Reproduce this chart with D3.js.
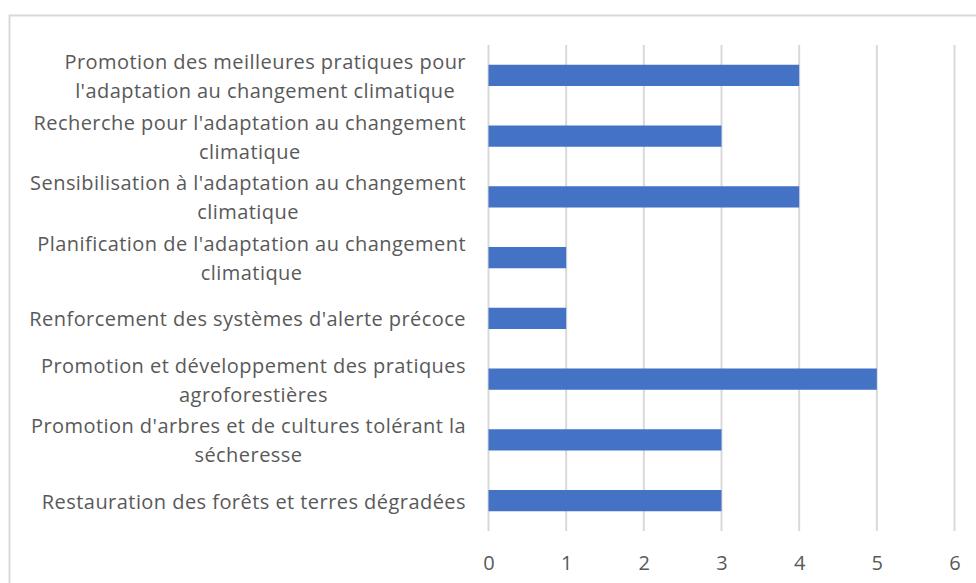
<!DOCTYPE html>
<html><head><meta charset="utf-8">
<script src="https://cdn.jsdelivr.net/npm/d3@7"></script>
<style>body{margin:0;background:#fff}svg{display:block}</style>
</head><body><svg id="c" width="976" height="583"></svg>
<script>
const categories = [
  ["Promotion des meilleures pratiques pour", "l'adaptation au changement climatique"],
  ["Recherche pour l'adaptation au changement", "climatique"],
  ["Sensibilisation à l'adaptation au changement", "climatique"],
  ["Planification de l'adaptation au changement", "climatique"],
  ["Renforcement des systèmes d'alerte précoce"],
  ["Promotion et développement des pratiques", "agroforestières"],
  ["Promotion d'arbres et de cultures tolérant la", "sécheresse"],
  ["Restauration des forêts et terres dégradées"]
];
const values = [4, 3, 4, 1, 1, 5, 3, 3];
const xTicks = [0, 1, 2, 3, 4, 5, 6];

const svg = d3.select("#c");
const font = "'Open Sans', sans-serif";
const fs = 20, lh = 29, textCol = "#595959", ls = 0.45;

svg.append("rect").attr("x", 9.5).attr("y", 15.5).attr("width", 1000).attr("height", 700)
  .attr("fill", "#fff").attr("stroke", "#d9d9d9").attr("stroke-width", 2);

const x = d3.scaleLinear().domain([0, 6]).range([488.5, 954.5]);
const y = d3.scaleBand().domain(d3.range(categories.length)).range([45, 531]).paddingInner(0.65).paddingOuter(0.325);

// gridlines
svg.append("g").selectAll("line").data(xTicks).join("line")
  .attr("x1", d => x(d)).attr("x2", d => x(d)).attr("y1", 45).attr("y2", 531)
  .attr("stroke", "#d9d9d9").attr("stroke-width", 2);

// bars
svg.append("g").selectAll("rect").data(values).join("rect")
  .attr("x", x(0)).attr("y", (d, i) => y(i)).attr("width", d => x(d) - x(0)).attr("height", y.bandwidth())
  .attr("fill", "#4472c4");

// x tick labels
const xAxis = d3.axisBottom(x).tickValues(xTicks).tickSize(0).tickPadding(0).tickFormat(d3.format("d"));
const gx = svg.append("g").attr("transform", "translate(0,556)").call(xAxis);
gx.select(".domain").remove();
gx.selectAll("text").attr("font-family", font).attr("font-size", fs).attr("fill", textCol).attr("dy", "0.71em");

// category labels
const rightEdge = 466;
const lab = svg.append("g");
categories.forEach((lines, i) => {
  const cy = y(i) + y.bandwidth() / 2;
  const g = lab.append("g");
  const texts = lines.map((t, k) => g.append("text").text(t)
    .attr("font-family", font).attr("font-size", fs).attr("fill", textCol)
    .attr("letter-spacing", ls)
    .attr("text-anchor", "middle")
    .attr("y", cy + (k - (lines.length - 1) / 2) * lh + 8));
  const w = d3.max(texts, t => t.node().getComputedTextLength());
  texts.forEach(t => t.attr("x", rightEdge - w / 2));
});
</script></body></html>
